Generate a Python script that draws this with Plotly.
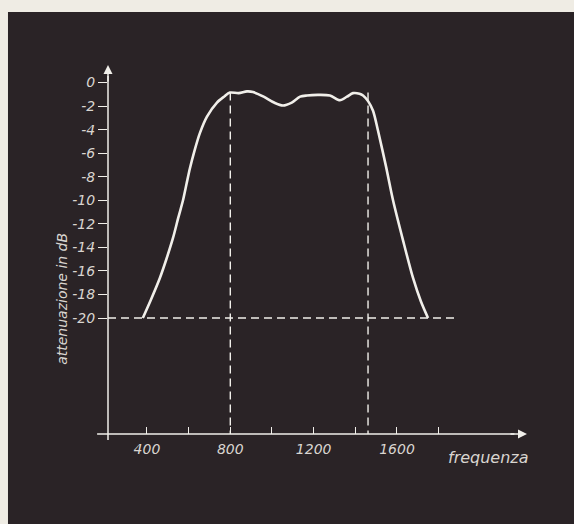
import plotly.graph_objects as go

BG_DARK = "#2a2326"
BG_EDGE = "#efece4"
LINE = "#f1efea"
TEXT = "#d9d5d0"

# curve (frequency in Hz, attenuation in dB)
freq = [380, 420, 462, 495, 525, 550, 573, 590, 606, 628, 654, 688, 736, 770,
        798, 840, 880, 909, 960, 1010, 1053, 1095, 1135, 1168, 1220, 1278,
        1326, 1360, 1389, 1420, 1437, 1462, 1485, 1509, 1547, 1581, 1629,
        1677, 1715, 1749]
att = [-20, -18.4, -16.6, -14.9, -13.2, -11.5, -10, -8.6, -7.3, -5.8, -4.3,
       -2.9, -1.7, -1.2, -0.85, -0.9, -0.75, -0.8, -1.2, -1.7, -1.95, -1.7,
       -1.2, -1.1, -1.05, -1.1, -1.5, -1.2, -0.9, -0.95, -1.1, -1.6, -2.4,
       -4.1, -7.1, -10, -13.4, -16.6, -18.6, -20]

# reference lines
band_edges = [800, 1461]
band_top = -0.85
ref_level = -20
ref_end = 1878

x_ticks = [400, 600, 800, 1000, 1200, 1400, 1600, 1800]
x_labels = ["400", "", "800", "", "1200", "", "1600", ""]
y_ticks = [0, -2, -4, -6, -8, -10, -12, -14, -16, -18, -20]
y_labels = ["0", "-2", "-4", "-6", "-8", "-10", "-12", "-14", "-16", "-18", "-20"]

X_RANGE = [213, 2224]
Y_RANGE = [-29.85, 1.49]

DASH = "8px,5px"

fig = go.Figure()

# dashed guide lines
for f in band_edges:
    fig.add_trace(go.Scatter(
        x=[f, f], y=[band_top, Y_RANGE[0]], mode="lines",
        line=dict(color=LINE, width=1.4, dash=DASH), hoverinfo="skip",
    ))
fig.add_trace(go.Scatter(
    x=[X_RANGE[0], ref_end], y=[ref_level, ref_level], mode="lines",
    line=dict(color=LINE, width=1.4, dash=DASH), hoverinfo="skip",
))

# filter response
fig.add_trace(go.Scatter(
    x=freq, y=att, mode="lines",
    line=dict(color=LINE, width=2.6, shape="spline", smoothing=0.8),
))

axis_font = dict(family="DejaVu Sans", size=14, color=TEXT, style="italic")

fig.update_layout(
    width=574, height=524,
    margin=dict(l=108, r=47, t=65, b=90),
    paper_bgcolor=BG_EDGE,
    plot_bgcolor="rgba(0,0,0,0)",
    showlegend=False,
    font=dict(family="DejaVu Sans", color=TEXT),
    xaxis=dict(
        range=X_RANGE, showgrid=False, zeroline=False, showline=False,
        tickvals=x_ticks, ticktext=x_labels,
        ticks="inside", ticklen=7, tickwidth=1.4, tickcolor=LINE,
        tickfont=axis_font, ticklabelstandoff=5,
    ),
    yaxis=dict(
        range=Y_RANGE, showgrid=False, zeroline=False, showline=False,
        tickvals=y_ticks, ticktext=y_labels,
        ticks="outside", ticklen=9, tickwidth=1.4, tickcolor=LINE,
        tickfont=axis_font, ticklabelstandoff=0,
    ),
    shapes=[
        # dark board
        dict(type="rect", xref="paper", yref="paper", layer="below",
             x0=-0.2387, x1=1.12, y0=-0.25, y1=1.1436,
             fillcolor=BG_DARK, line=dict(width=0)),
        # axis lines
        dict(type="line", xref="paper", yref="paper",
             x0=-0.026, x1=0.97, y0=0, y1=0, line=dict(color=LINE, width=1.5)),
        dict(type="line", xref="paper", yref="paper",
             x0=0, x1=0, y0=-0.016, y1=0.97, line=dict(color=LINE, width=1.5)),
    ],
    annotations=[
        dict(xref="paper", yref="paper", x=1, y=0, ax=-18, ay=0, text="",
             showarrow=True, arrowhead=2, arrowsize=1.2, arrowwidth=1.5,
             arrowcolor=LINE),
        dict(xref="paper", yref="paper", x=0, y=1, ax=0, ay=18, text="",
             showarrow=True, arrowhead=2, arrowsize=1.2, arrowwidth=1.5,
             arrowcolor=LINE),
        dict(xref="paper", yref="paper", x=-0.11, y=0.366,
             xanchor="center", yanchor="middle",
             text="<i>attenuazione in dB</i>", textangle=-90, showarrow=False,
             font=dict(family="DejaVu Sans", size=14, color=TEXT)),
        dict(xref="paper", yref="paper", x=0.909, y=-0.065,
             xanchor="center", yanchor="middle",
             text="<i>frequenza</i>", showarrow=False,
             font=dict(family="DejaVu Sans", size=16, color=TEXT)),
    ],
)

fig.write_html("out.html", config={"displayModeBar": False},
               post_script="document.body.style.margin='0';")
